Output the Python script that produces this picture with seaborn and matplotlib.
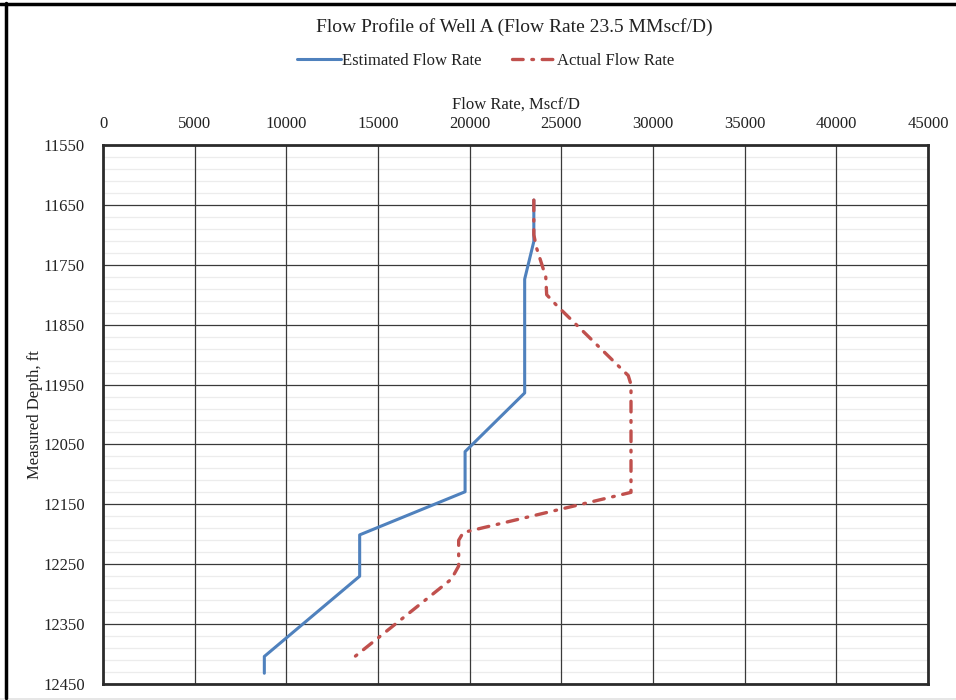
import matplotlib
matplotlib.use("Agg")
import matplotlib.pyplot as plt
from matplotlib.lines import Line2D
from matplotlib.patches import Rectangle
import seaborn as sns
import pandas as pd

# Estimated flow profile (Mscf/D vs measured depth, ft)
est_rate = [23500, 23500, 23000, 23000, 19750, 19750, 14000, 14000, 8800, 8800]
est_depth = [11642, 11711, 11774, 11964, 12062, 12129, 12201, 12270, 12404, 12432]

# Actual flow profile from the production log
act_rate = [23500, 23500, 23650, 24150, 24200, 24750, 28650, 28800, 28800,
            19650, 19400, 19400, 19000, 13500]
act_depth = [11642, 11700, 11722, 11770, 11800, 11818, 11935, 11950, 12130,
             12197, 12210, 12253, 12275, 12410]

x_ticks = list(range(0, 45001, 5000))
y_ticks = list(range(11550, 12451, 100))
y_minor = [d for d in range(11550, 12451, 20) if (d - 11550) % 100]

title = "Flow Profile of Well A (Flow Rate 23.5 MMscf/D)"
est_label = "Estimated Flow Rate"
act_label = "Actual Flow Rate"

sns.set_style("white")
plt.rcParams["font.family"] = ["Liberation Serif", "DejaVu Serif"]

BLUE = "#4F81BD"
RED = "#C0504D"
DASH = (3.2, 2.6, 0.5, 2.6)

fig = plt.figure(figsize=(9.56, 7.0), dpi=100)
ax = fig.add_axes([103 / 956, 1 - 684 / 700, 825 / 956, 539 / 700])

est_df = pd.DataFrame({"rate": est_rate, "depth": est_depth})
act_df = pd.DataFrame({"rate": act_rate, "depth": act_depth})

sns.lineplot(data=est_df, x="rate", y="depth", sort=False, estimator=None,
             color=BLUE, linewidth=2.2, ax=ax, zorder=4)
sns.lineplot(data=act_df, x="rate", y="depth", sort=False, estimator=None,
             color=RED, linewidth=2.4, ax=ax, zorder=5)
red_line = ax.lines[-1]
red_line.set_dashes(DASH)
red_line.set_dash_capstyle("round")

ax.set_xlim(0, 45000)
ax.set_ylim(12450, 11550)
ax.xaxis.tick_top()
ax.xaxis.set_label_position("top")
ax.set_xticks(x_ticks)
ax.set_yticks(y_ticks)
ax.tick_params(axis="both", which="both", length=0, labelsize=12, colors="#222222")
ax.tick_params(axis="x", pad=9)
ax.tick_params(axis="y", pad=13)

# light minor depth lines sit beneath the major grid
ax.hlines(y_minor, 0, 45000, colors="#ececec", linewidth=0.9, zorder=0.2)
ax.grid(True, which="major", color="#3a3a3a", linewidth=0.9)
ax.set_axisbelow(True)
for s in ax.spines.values():
    s.set_color("#2b2b2b")
    s.set_linewidth(2.0)

ax.set_xlabel("Flow Rate, Mscf/D", fontsize=12, labelpad=6, color="#222222")
ax.set_ylabel("Measured Depth, ft", fontsize=12, labelpad=0, color="#222222")

fig.text(0.5375, 1 - 27 / 700, title, ha="center", va="center", fontsize=14,
         color="#222222")

handles = [
    Line2D([], [], color=BLUE, linewidth=2.2),
    Line2D([], [], color=RED, linewidth=2.4, dashes=DASH, dash_capstyle="round"),
]
fig.legend(handles, [est_label, act_label], loc="center",
           bbox_to_anchor=(0.508, 1 - 61 / 700), ncol=2, frameon=False,
           fontsize=12, handlelength=2.6, handletextpad=0.1, columnspacing=1.8,
           labelcolor="#222222")

# Outer chart frame: black top and left edges, light strip at the bottom
fig.add_artist(Line2D([0, 1], [1 - 3.5 / 700, 1 - 3.5 / 700], color="black",
                      linewidth=2.5, transform=fig.transFigure))
fig.add_artist(Line2D([6 / 956, 6 / 956], [2 / 700, 1 - 3 / 700], color="black",
                      linewidth=2.5, transform=fig.transFigure))
fig.add_artist(Rectangle((0, 0), 1, 2.5 / 700, transform=fig.transFigure,
                         facecolor="#e6e6e6", edgecolor="none"))

fig.savefig("out.png", dpi=100)
